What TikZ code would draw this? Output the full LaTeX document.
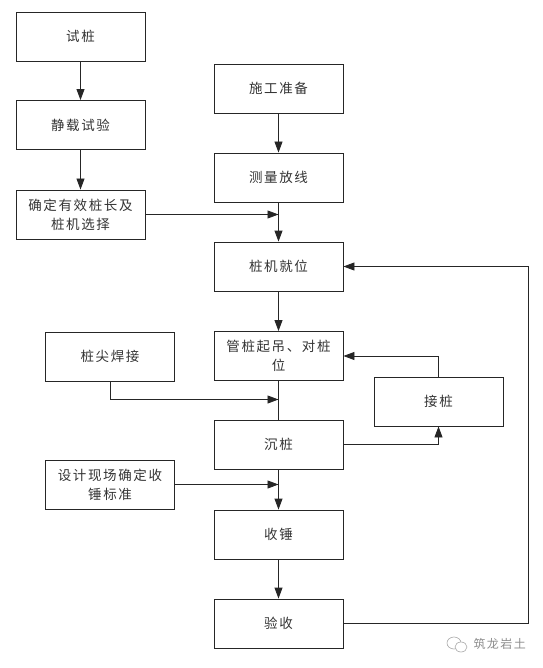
\documentclass[tikz,border=0pt]{standalone}
\usepackage{fontspec}
\usepackage{tikz}
\usetikzlibrary{arrows.meta}
\newfontfamily\cjk[LetterSpace=12]{Noto Sans CJK SC}

\tikzset{
  box/.style={draw=black!85, line width=0.9pt, minimum width=129pt, minimum height=49pt,
    inner sep=2pt, align=center, font=\cjk\fontsize{13.5}{19}\selectfont, text=black!80},
  line/.style={draw=black!85, line width=0.9pt},
  arr/.style={line, -{Triangle[length=11pt,width=8pt]}}
}

\begin{document}
\begin{tikzpicture}[x=1pt,y=-1pt]
\useasboundingbox (0,0) rectangle (542,668);

% left column
\node[box] (shizhuang) at (80.5,36.5) {试桩};
\node[box] (jingzai) at (80.5,125) {静载试验};
\node[box] (queding) at (80.5,214.5) {确定有效桩长及\\桩机选择};

% main column
\node[box] (zhunbei) at (278.5,88.5) {施工准备};
\node[box] (celiang) at (278.5,177.5) {测量放线};
\node[box] (jiuwei) at (278.5,266.5) {桩机就位};
\node[box] (diaozhuang) at (278.5,356) {管桩起吊、对桩\\位};
\node[box] (chenzhuang) at (278.5,444.5) {沉桩};
\node[box] (shouchui) at (278.5,534.5) {收锤};
\node[box] (yanshou) at (278.5,623.5) {验收};

% side boxes
\node[box] (hanjie) at (110,356.5) {桩尖焊接};
\node[box] (jiezhuang) at (438.5,401.5) {接桩};
\node[box] (biaozhun) at (110,484.5) {设计现场确定收\\锤标准};

\coordinate (m1) at (278.5,214.5);
\coordinate (m2) at (278.5,399.5);
\coordinate (m3) at (278.5,484.5);
\coordinate (r1) at (528,623.5);

\draw[arr] (shizhuang) -- (jingzai);
\draw[arr] (jingzai) -- (queding);
\draw[arr] (zhunbei) -- (celiang);
\draw[arr] (celiang) -- (jiuwei);
\draw[arr] (queding.east) -- (m1);
\draw[arr] (jiuwei) -- (diaozhuang);
\draw[line] (diaozhuang) -- (chenzhuang);
\draw[arr] (hanjie.south) |- (m2);
\draw[arr] (jiezhuang.north) |- (diaozhuang.east);
\draw[arr] (chenzhuang.east) -| (jiezhuang.south);
\draw[arr] (chenzhuang) -- (shouchui);
\draw[arr] (biaozhun.east) -- (m3);
\draw[arr] (shouchui) -- (yanshou);
\draw[arr] (yanshou.east) -- (r1) |- (jiuwei.east);

% watermark
\draw[black!35, line width=0.6pt] (454,643) ellipse (7pt and 6pt);
\draw[black!35, line width=0.6pt, fill=white] (461,647) ellipse (6pt and 5pt);
\node[text=black!45, font=\cjk\fontsize{12}{14}\selectfont, anchor=west] (shuiyin) at (470,644) {筑龙岩土};
\end{tikzpicture}
\end{document}
